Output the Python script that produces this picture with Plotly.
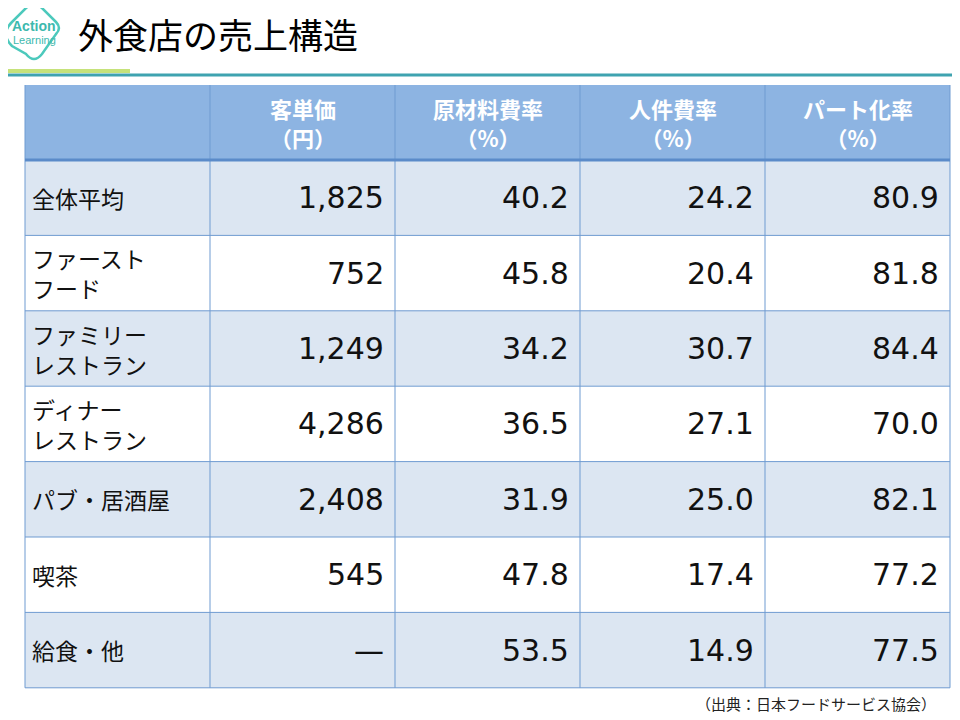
import plotly.graph_objects as go

# table data
headers = ["", "客単価<br>（円）", "原材料費率<br>（%）", "人件費率<br>（%）", "パート化率<br>（%）"]
categories = ["全体平均", "ファースト<br>フード", "ファミリー<br>レストラン", "ディナー<br>レストラン",
              "パブ・居酒屋", "喫茶", "給食・他"]
price = ["1,825", "752", "1,249", "4,286", "2,408", "545", "—"]
material = [40.2, 45.8, 34.2, 36.5, 31.9, 47.8, 53.5]
labor = [24.2, 20.4, 30.7, 27.1, 25.0, 17.4, 14.9]
parttime = [80.9, 81.8, 84.4, 70.0, 82.1, 77.2, 77.5]

col_x = [25, 210, 395, 580, 765, 950]
top, head_h, row_h = 85, 75, 75.4
FONT = "Noto Sans CJK JP, Noto Sans, sans-serif"
NUMFONT = "DejaVu Sans, Noto Sans, sans-serif"
BLUE = "#6F9BD1"

fig = go.Figure()
shapes, ann = [], []

# header
shapes.append(dict(type="rect", x0=col_x[0], x1=col_x[-1], y0=top, y1=top + head_h,
                   fillcolor="#8DB4E2", line=dict(width=0), layer="below"))
for j, h in enumerate(headers):
    if h:
        ann.append(dict(x=(col_x[j] + col_x[j + 1]) / 2, y=top + head_h / 2, text="<b>" + h + "</b>",
                        showarrow=False, font=dict(size=22, color="white", family=FONT)))

rows = list(zip(categories, price, material, labor, parttime))
for i, r in enumerate(rows):
    y0 = top + head_h + i * row_h
    y1 = y0 + row_h
    shapes.append(dict(type="rect", x0=col_x[0], x1=col_x[-1], y0=y0, y1=y1,
                       fillcolor="#DCE6F2" if i % 2 == 0 else "white", line=dict(width=0), layer="below"))
    ym = (y0 + y1) / 2
    ann.append(dict(x=col_x[0] + 5, y=ym, text=r[0], xanchor="left", align="left", showarrow=False,
                    font=dict(size=23, color="#111", family=FONT)))
    vals = [r[1], f"{r[2]:.1f}", f"{r[3]:.1f}", f"{r[4]:.1f}"]
    for j, v in enumerate(vals):
        ann.append(dict(x=col_x[j + 2] - 9, y=ym, text=v, xanchor="right", showarrow=False,
                        font=dict(size=30, color="#111", family=NUMFONT)))

bottom = top + head_h + len(rows) * row_h
# grid lines
for x in col_x:
    shapes.append(dict(type="line", x0=x, x1=x, y0=top, y1=bottom, line=dict(color=BLUE, width=1)))
for i in range(len(rows) + 1):
    y = top + head_h + i * row_h
    shapes.append(dict(type="line", x0=col_x[0], x1=col_x[-1], y0=y, y1=y,
                       line=dict(color="#5B8BC9" if i == 0 else BLUE, width=3 if i == 0 else 1)))

# title bar lines
shapes.append(dict(type="line", x0=0, x1=960, y0=75, y1=75, line=dict(color="#3FA3B0", width=3)))
shapes.append(dict(type="rect", x0=0, x1=130, y0=69, y1=73, fillcolor="#C6E27A", line=dict(width=0)))
# logo
shapes.append(dict(type="path", path="M 6 34 Q 6 28 12 22 L 26 8 Q 34 2 42 8 L 56 22 Q 62 28 56 34 L 42 54 Q 34 64 26 54 L 12 46 Q 6 40 6 34 Z",
                   line=dict(color="#4CC9BC", width=2.5), fillcolor="white"))
ann.append(dict(x=34, y=26, text="<b>Action</b>", showarrow=False, font=dict(size=14, color="#3DB9AE", family="Liberation Sans Narrow, Arial")))
ann.append(dict(x=34, y=40, text="Learning", showarrow=False, font=dict(size=11, color="#3DB9AE", family="Liberation Sans Narrow, Arial")))
ann.append(dict(x=76, y=33, text="外食店の売上構造", xanchor="left", showarrow=False,
                font=dict(size=35, color="black", family=FONT)))
ann.append(dict(x=938, y=703, text="（出典：日本フードサービス協会）", xanchor="right", showarrow=False,
                font=dict(size=15, color="#222", family=FONT)))

# shift by 8px so the page's body margin is compensated
fig.update_layout(width=960, height=720, margin=dict(l=0, r=0, t=0, b=0),
                  plot_bgcolor="white", paper_bgcolor="white", shapes=shapes, annotations=ann,
                  xaxis=dict(range=[8, 968], visible=False, fixedrange=True),
                  yaxis=dict(range=[728, 8], visible=False, fixedrange=True), showlegend=False)

fig.write_html("out.html")
